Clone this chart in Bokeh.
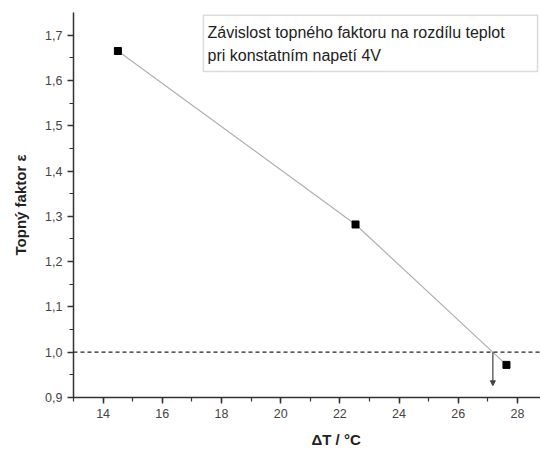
from bokeh.plotting import figure
from bokeh.models import (Range1d, SingleIntervalTicker, CustomJSTickFormatter, Span,
                          Arrow, NormalHead, Label, BoxAnnotation, Title)
from bokeh.embed import file_html
from bokeh.resources import INLINE

# data
delta_t = [14.5, 22.53, 27.63]
epsilon = [1.665, 1.282, 0.972]
ref_level = 1.0
cross_x = 27.17
arrow_end_y = 0.926
x_title = "\u0394T / \u00b0C"
y_title = "Topn\u00fd faktor \u03b5"
note_lines = ["Z\u00e1vislost topn\u00e9ho faktoru na rozd\u00edlu teplot",
              "pri konstatn\u00edm napet\u00ed 4V"]

FONT = "Liberation Sans"

p = figure(frame_width=467, frame_height=385, output_backend="svg", toolbar_location=None,
           x_range=Range1d(13, 28.78), y_range=Range1d(0.9, 1.75),
           min_border_left=73, min_border_right=0, min_border_top=12, min_border_bottom=64)
p.outline_line_color = None
p.xgrid.visible = False
p.ygrid.visible = False
p.background_fill_color = "white"
p.border_fill_color = "white"

p.xaxis.ticker = SingleIntervalTicker(interval=2, num_minor_ticks=2)
p.yaxis.ticker = SingleIntervalTicker(interval=0.1, num_minor_ticks=2)
p.yaxis.formatter = CustomJSTickFormatter(code="return tick.toFixed(1).replace('.', ',');")
p.xaxis.formatter = CustomJSTickFormatter(code="return tick.toFixed(0);")

for ax in (p.xaxis, p.yaxis):
    ax.axis_line_color = "#333333"
    ax.axis_line_width = 1.5
    ax.major_tick_line_color = "#333333"
    ax.minor_tick_line_color = "#333333"
    ax.major_tick_line_width = 1.5
    ax.minor_tick_line_width = 1.2
    ax.major_tick_in = 0
    ax.major_tick_out = 6
    ax.minor_tick_in = 0
    ax.minor_tick_out = 4
    ax.major_label_text_font = FONT
    ax.major_label_text_font_size = "12.5px"
    ax.major_label_text_color = "#444444"
    ax.major_label_standoff = 5
    ax.axis_label_text_font = FONT
    ax.axis_label_text_font_style = "bold"
    ax.axis_label_text_font_size = "15px"
    ax.axis_label_text_color = "#222222"

p.yaxis.axis_label = y_title
p.yaxis.axis_label_standoff = 13

p.line(delta_t, epsilon, line_color="#b0b0b0", line_width=1.2)
p.scatter(delta_t, epsilon, marker="square", size=7, fill_color="black", line_color="black")

p.add_layout(Span(location=ref_level, dimension="width", line_color="#222222",
                  line_dash="4 3", line_width=1.3))
p.add_layout(Arrow(x_start=cross_x, y_start=ref_level, x_end=cross_x, y_end=arrow_end_y,
                   line_color="#444444", line_width=1.2,
                   end=NormalHead(size=5, fill_color="#444444", line_color="#444444")))

p.add_layout(BoxAnnotation(left=17.39, right=28.68, top=1.744, bottom=1.62,
                           fill_color="white", fill_alpha=1.0,
                           line_color="#888888", line_width=1.5))
p.add_layout(Label(x=17.53, y=1.7066, text=note_lines[0], text_font=FONT,
                   text_font_size="16px", text_color="#222222", text_baseline="middle"))
p.add_layout(Label(x=17.53, y=1.6558, text=note_lines[1], text_font=FONT,
                   text_font_size="16px", text_color="#222222", text_baseline="middle"))

p.add_layout(Title(text=x_title, align="left", offset=238, text_font=FONT,
                   text_font_style="bold", text_font_size="15px", text_color="#222222",
                   standoff=17), "below")

open("out.html", "w").write(file_html(p, INLINE))
